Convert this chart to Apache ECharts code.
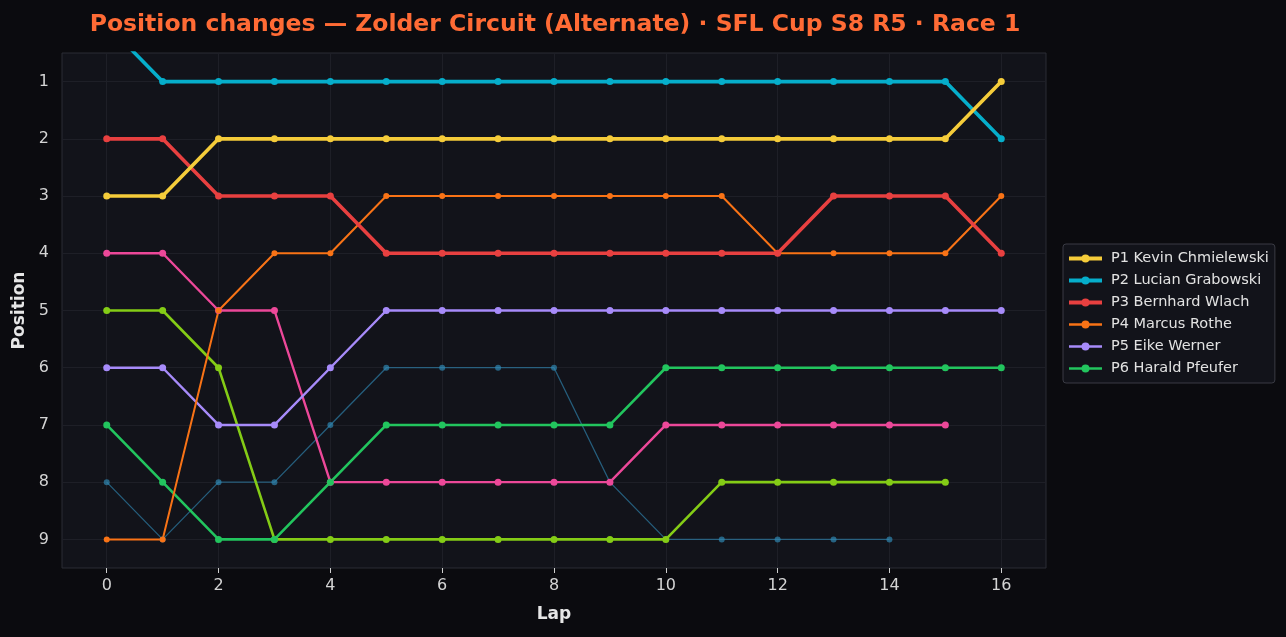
<!DOCTYPE html>
<html>
<head>
<meta charset="utf-8">
<script src="https://cdn.jsdelivr.net/npm/echarts@6/dist/echarts.min.js"></script>
<style>
html,body{margin:0;padding:0;background:#0b0b0f;}
#chart{width:1286px;height:637px;}
</style>
</head>
<body>
<div id="chart"></div>
<script>
const laps = [0,1,2,3,4,5,6,7,8,9,10,11,12,13,14,15,16];
const xTicks = [0,2,4,6,8,10,12,14,16];
const yTicks = [1,2,3,4,5,6,7,8,9];

const p1Kevin    = [3,3,2,2,2,2,2,2,2,2,2,2,2,2,2,2,1];
const p2Lucian   = [0,1,1,1,1,1,1,1,1,1,1,1,1,1,1,1,2];
const p3Bernhard = [2,2,3,3,3,4,4,4,4,4,4,4,4,3,3,3,4];
const p4Marcus   = [9,9,5,4,4,3,3,3,3,3,3,3,4,4,4,4,3];
const p5Eike     = [6,6,7,7,6,5,5,5,5,5,5,5,5,5,5,5,5];
const p6Harald   = [7,8,9,9,8,7,7,7,7,7,6,6,6,6,6,6,6];
const pinkDriver = [4,4,5,5,8,8,8,8,8,8,7,7,7,7,7,7];
const limeDriver = [5,5,6,9,9,9,9,9,9,9,9,8,8,8,8,8];
const dimDriver  = [8,9,8,8,7,6,6,6,6,8,9,9,9,9,9];

const legendNames = ['P1 Kevin Chmielewski','P2 Lucian Grabowski','P3 Bernhard Wlach','P4 Marcus Rothe','P5 Eike Werner','P6 Harald Pfeufer'];
const legendColors = ['#f5cc3a','#06aecb','#e84040','#f97316','#a78bfa','#22c55e'];
const legendWidths = [4,4,4,2.5,2.5,2.5];

function pairs(vals){ return vals.map((v,i)=>[laps[i], v]); }
function mk(name, vals, color, width, size, extra){
  return Object.assign({
    name: name, type:'line', data: pairs(vals),
    symbol:'circle', symbolSize:size, showSymbol:true,
    lineStyle:{color:color, width:width},
    itemStyle:{color:color},
    emphasis:{disabled:true},
    animation:false, z:3
  }, extra||{});
}

const gridColor = '#1e1f27';
const gridLines = xTicks.map(v=>({xAxis:v})).concat(yTicks.map(v=>({yAxis:v})));

const series = [
  {
    name:'grid', type:'line', data:[], silent:true, z:1,
    markLine:{silent:true, z:1, symbol:['none','none'], animation:false,
      label:{show:false}, lineStyle:{color:gridColor, width:1, type:'solid'},
      emphasis:{disabled:true}, data:gridLines}
  },
  mk('P9', dimDriver, '#2f86b0', 1.3, 6, {lineStyle:{color:'#2f86b0',width:1.3,opacity:0.65}, itemStyle:{color:'#2f86b0',opacity:0.7}}),
  mk('P8', limeDriver, '#84cc16', 2.6, 7),
  mk('P7', pinkDriver, '#ec4899', 2.4, 7),
  mk(legendNames[5], p6Harald, legendColors[5], 2.6, 7),
  mk(legendNames[4], p5Eike, legendColors[4], 2.4, 7),
  mk(legendNames[3], p4Marcus, legendColors[3], 2.0, 6),
  mk(legendNames[2], p3Bernhard, legendColors[2], 3.6, 7),
  mk(legendNames[1], p2Lucian, legendColors[1], 3.6, 7),
  mk(legendNames[0], p1Kevin, legendColors[0], 3.6, 7)
];

const tickLabelStyle = {color:'#d4d4d4', fontFamily:'DejaVu Sans', fontSize:16};
const nameStyle = {color:'#e6e6e6', fontFamily:'DejaVu Sans', fontWeight:'bold', fontSize:17};

const chart = echarts.init(document.getElementById('chart'), null, {renderer:'canvas'});
chart.setOption({
  backgroundColor:'#0b0b0f',
  animation:false,
  title:{
    text:'Position changes — Zolder Circuit (Alternate) · SFL Cup S8 R5 · Race 1',
    left:550, top:8, textAlign:'center',
    textStyle:{color:'#ff6b35', fontFamily:'DejaVu Sans', fontWeight:'bold', fontSize:23.5}
  },
  legend:{
    data: legendNames.map((n,i)=>({name:n, lineStyle:{width:legendWidths[i], color:legendColors[i]}})),
    orient:'vertical',
    left:1063, top:244,
    itemWidth:33, itemHeight:10, itemGap:7,
    backgroundColor:'#12131a', borderColor:'#3a3b44', borderWidth:1, borderRadius:3,
    padding:[7,6,7,4],
    textStyle:{color:'#e2e2e2', fontFamily:'DejaVu Sans', fontSize:14.5, padding:[0,0,0,4]},
    selectedMode:false
  },
  grid:{
    left:62, right:240, top:53, bottom:69,
    show:true, backgroundColor:'#12131a', borderColor:'#2b2c34', borderWidth:1
  },
  xAxis:{
    type:'value', min:-0.8, max:16.8,
    name:'Lap', nameLocation:'middle', nameGap:38,
    nameTextStyle:nameStyle,
    axisLine:{show:false},
    axisTick:{show:true, length:5, customValues:xTicks, lineStyle:{color:'#cfcfcf'}},
    axisLabel:Object.assign({margin:10, customValues:xTicks}, tickLabelStyle),
    splitLine:{show:false}
  },
  yAxis:{
    type:'value', inverse:true, min:0.5, max:9.5,
    name:'Position', nameLocation:'middle', nameGap:28,
    nameTextStyle:nameStyle,
    axisLine:{show:false},
    axisTick:{show:true, length:5, customValues:yTicks, lineStyle:{color:'#cfcfcf'}},
    axisLabel:Object.assign({margin:13, customValues:yTicks}, tickLabelStyle),
    splitLine:{show:false}
  },
  series: series
});
</script>
</body>
</html>
